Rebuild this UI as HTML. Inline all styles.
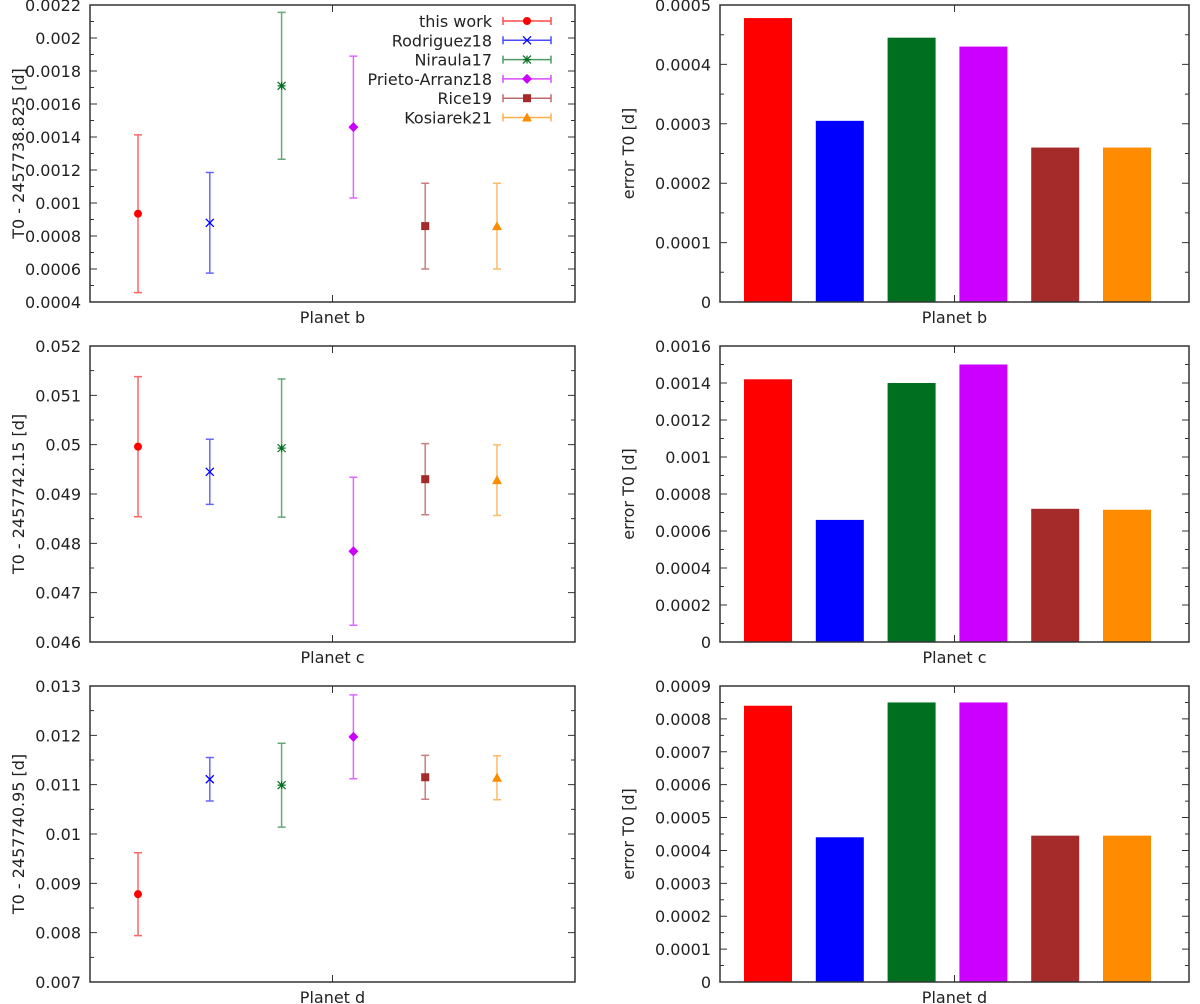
<!DOCTYPE html>
<html><head><meta charset="utf-8"><style>
body{margin:0;background:#fff}
svg{display:block;font-family:"DejaVu Sans","Liberation Sans",sans-serif}
</style></head><body>
<svg id="fig" width="1200" height="1004" viewBox="0 0 1200 1004" xmlns="http://www.w3.org/2000/svg"></svg>
<script>
const sources = ["this work","Rodriguez18","Niraula17","Prieto-Arranz18","Rice19","Kosiarek21"];
const colors = ["#ff0000","#0000ff","#007020","#cc00ff","#a52a2a","#ff8c00"];
const markers = ["circle","x","star","diamond","square","triangle"];
const planets = ["b","c","d"];
const valuesB = [0.000935,0.00088,0.00171,0.00146,0.00086,0.00086];
const errorsB = [0.000478,0.000305,0.000445,0.00043,0.00026,0.00026];
const valuesC = [0.04996,0.04945,0.04993,0.04784,0.0493,0.04928];
const errorsC = [0.00142,0.00066,0.0014,0.0015,0.00072,0.000715];
const valuesD = [0.00878,0.01111,0.01099,0.01197,0.01115,0.01114];
const errorsD = [0.00084,0.00044,0.00085,0.00085,0.000445,0.000445];
const yTicksLB = ["0.0004","0.0006","0.0008","0.001","0.0012","0.0014","0.0016","0.0018","0.002","0.0022"];
const yTicksLC = ["0.046","0.047","0.048","0.049","0.05","0.051","0.052"];
const yTicksLD = ["0.007","0.008","0.009","0.01","0.011","0.012","0.013"];
const yTicksRB = ["0","0.0001","0.0002","0.0003","0.0004","0.0005"];
const yTicksRC = ["0","0.0002","0.0004","0.0006","0.0008","0.001","0.0012","0.0014","0.0016"];
const yTicksRD = ["0","0.0001","0.0002","0.0003","0.0004","0.0005","0.0006","0.0007","0.0008","0.0009"];
const leftTitles = ["T0 - 2457738.825 [d]","T0 - 2457742.15 [d]","T0 - 2457740.95 [d]"];

const NS="http://www.w3.org/2000/svg";
const svg=document.getElementById('fig');
function mk(tag,attrs,parent){const e=document.createElementNS(NS,tag);for(const k in attrs)e.setAttribute(k,attrs[k]);(parent||svg).appendChild(e);return e;}

const rows=[{top:5,bot:302},{top:346,bot:642},{top:686,bot:982}];
const L={x0:90,x1:575}, R={x0:720,x1:1189};
const allVals=[valuesB,valuesC,valuesD], allErr=[errorsB,errorsC,errorsD];
const lTicks=[yTicksLB,yTicksLC,yTicksLD], rTicks=[yTicksRB,yTicksRC,yTicksRD];
const FS=16;

function xScale(box){return i=>box.x0+48+71.8*i;}
function yScale(row,ticks){const lo=+ticks[0],hi=+ticks[ticks.length-1];return v=>row.bot-(v-lo)/(hi-lo)*(row.bot-row.top);}

function drawMarker(g,type,x,y,c){
  if(type==="circle") mk('circle',{cx:x,cy:y,r:4,fill:c},g);
  else if(type==="x"){mk('path',{d:`M${x-4} ${y-4}L${x+4} ${y+4}M${x-4} ${y+4}L${x+4} ${y-4}`,stroke:c,'stroke-width':1.3},g);}
  else if(type==="star"){mk('path',{d:`M${x-4} ${y-4}L${x+4} ${y+4}M${x-4} ${y+4}L${x+4} ${y-4}M${x-4} ${y}L${x+4} ${y}M${x} ${y-4}L${x} ${y+4}`,stroke:c,'stroke-width':1.2},g);}
  else if(type==="diamond") mk('path',{d:`M${x} ${y-5}L${x+5} ${y}L${x} ${y+5}L${x-5} ${y}Z`,fill:c},g);
  else if(type==="square") mk('rect',{x:x-4,y:y-4,width:8,height:8,fill:c},g);
  else if(type==="triangle") mk('path',{d:`M${x} ${y-5}L${x+5} ${y+4}L${x-5} ${y+4}Z`,fill:c},g);
}

function axes(g,box,row,ticks,ys,title,titleX,planet){
  const n=ticks.length;const step=(+ticks[1])-(+ticks[0]);
  for(let i=0;i<n;i++){
    const v=+ticks[i];const y=ys(v);
    const t=mk('text',{x:box.x0-9,y:y+6,'text-anchor':'end','font-size':FS,fill:'#222'},g);t.textContent=ticks[i];
    
    
    mk('path',{d:`M${box.x0} ${y}h7M${box.x1} ${y}h-7`,stroke:'#333','stroke-width':1},g);
    if(i<n-1){const ym=ys(v+step/2);mk('path',{d:`M${box.x0} ${ym}h4M${box.x1} ${ym}h-4`,stroke:'#333','stroke-width':1},g);}
  }
  const cx=(box.x0+box.x1)/2;
  mk('path',{d:`M${cx} ${row.bot}v-7M${cx} ${row.top}v7`,stroke:'#333'},g);
  mk('rect',{x:box.x0,y:row.top,width:box.x1-box.x0,height:row.bot-row.top,fill:'none',stroke:'#333','stroke-width':1.5},g);
  const xl=mk('text',{x:cx,y:row.bot+21,'text-anchor':'middle','font-size':FS,fill:'#222'},g);xl.textContent='Planet '+planet;
  
  
  const my=(row.top+row.bot)/2;
  const yt=mk('text',{x:titleX,y:my,'text-anchor':'middle','font-size':FS,fill:'#222',transform:`rotate(-90 ${titleX} ${my})`},g);yt.textContent=title;
  
  
}

for(let p=0;p<3;p++){
  const row=rows[p];
  const gl=mk('g',{});
  
  
  const ysL=yScale(row,lTicks[p]);const xs=xScale(L);
  axes(gl,L,row,lTicks[p],ysL,leftTitles[p],24,planets[p]);
  for(let i=0;i<6;i++){
    const x=xs(i),v=allVals[p][i],e=allErr[p][i],c=colors[i];
    const ge=mk('g',{},gl);
    
    
    const y1=ysL(v-e),y2=ysL(v+e);
    mk('path',{d:`M${x} ${y1}L${x} ${y2}M${x-4} ${y1}h8M${x-4} ${y2}h8`,stroke:c,'stroke-opacity':0.6,'stroke-width':1.5},ge);
    drawMarker(ge,markers[i],x,ysL(v),c);
  }
  const gr=mk('g',{});
  
  
  const ysR=yScale(row,rTicks[p]);const xr=xScale(R);
  for(let i=0;i<6;i++){
    const b=mk('rect',{x:xr(i)-24,y:ysR(allErr[p][i]),width:48,height:ysR(0)-ysR(allErr[p][i]),fill:colors[i]},gr);
    
    
  }
  axes(gr,R,row,rTicks[p],ysR,'error T0 [d]',634,planets[p]);
}
const lg=mk('g',{});


for(let i=0;i<6;i++){
  const y=21+19.3*i;
  const ent=mk('g',{},lg);
  
  
  const t=mk('text',{x:492,y:y+6,'text-anchor':'end','font-size':FS,fill:'#222'},ent);t.textContent=sources[i];
  mk('path',{d:`M503 ${y}H551M503 ${y-4}v8M551 ${y-4}v8`,stroke:colors[i],'stroke-opacity':0.7,'stroke-width':1.5},ent);
  drawMarker(ent,markers[i],527,y,colors[i]);
}
</script>
</body></html>
